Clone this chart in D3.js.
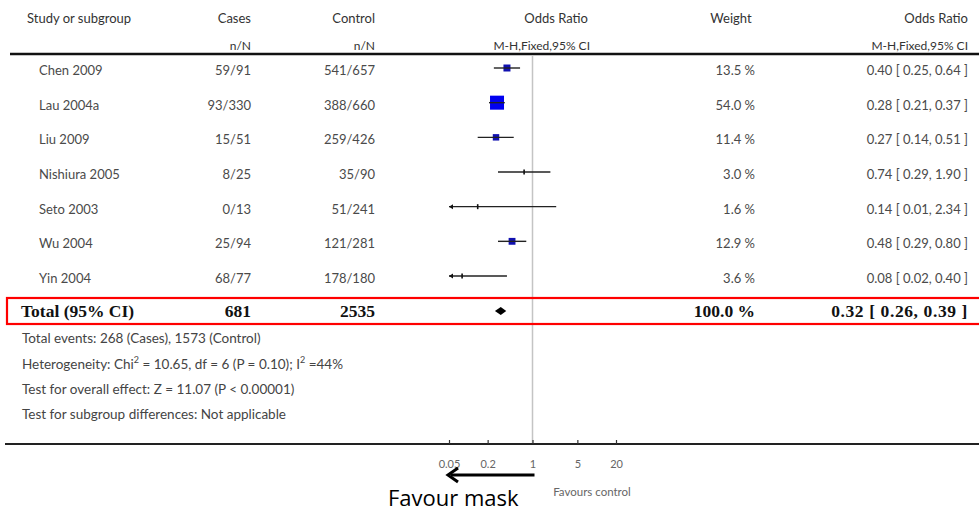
<!DOCTYPE html>
<html>
<head>
<meta charset="utf-8">
<script src="https://cdn.jsdelivr.net/npm/d3@7"></script>
<style>
  html, body { margin: 0; padding: 0; background: #fff; }
  svg { display: block; }
</style>
</head>
<body>
<svg id="chart" width="979" height="511"></svg>
<script>
// ---- data ----
const studies = ["Chen 2009", "Lau 2004a", "Liu 2009", "Nishiura 2005", "Seto 2003", "Wu 2004", "Yin 2004"];
const caseEvents = [59, 93, 15, 8, 0, 25, 68];
const caseTotals = [91, 330, 51, 25, 13, 94, 77];
const controlEvents = [541, 388, 259, 35, 51, 121, 178];
const controlTotals = [657, 660, 426, 90, 241, 281, 180];
const weights = [13.5, 54.0, 11.4, 3.0, 1.6, 12.9, 3.6];
const oddsRatios = [0.40, 0.28, 0.27, 0.74, 0.14, 0.48, 0.08];
const ciLower = [0.25, 0.21, 0.14, 0.29, 0.01, 0.29, 0.02];
const ciUpper = [0.64, 0.37, 0.51, 1.90, 2.34, 0.80, 0.40];
const totalCases = 681;
const totalControl = 2535;
const totalWeight = 100.0;
const totalOR = 0.32;
const totalLower = 0.26;
const totalUpper = 0.39;
const axisTicks = [0.05, 0.2, 1, 5, 20];
const footerLines = [
  "Total events: 268 (Cases), 1573 (Control)",
  "Heterogeneity: Chi|2| = 10.65, df = 6 (P = 0.10); I|2| =44%",
  "Test for overall effect: Z = 11.07 (P < 0.00001)",
  "Test for subgroup differences: Not applicable"
];

// ---- layout ----
const svg = d3.select("#chart");
const sans = "Lato, 'Open Sans', sans-serif";
const serif = "'Liberation Serif', 'Times New Roman', serif";
const x = d3.scaleLog().domain([0.05, 20]).range([449, 616]);
const y = d3.scaleLinear().domain([0, studies.length - 1]).range([70, 278]);
const size = d3.scaleSqrt().domain([0, 54]).range([0, 14]);
const colCases = 251, colControl = 375, colWeight = 755, colOR = 968;
const axisY = 444;

// header
const hdr = svg.append("g").attr("font-family", sans).attr("font-size", 13).attr("fill", "#333");
hdr.append("text").attr("x", 27).attr("y", 18).attr("dominant-baseline", "central").text("Study or subgroup");
hdr.append("text").attr("x", colCases).attr("y", 18).attr("text-anchor", "end").attr("dominant-baseline", "central").text("Cases");
hdr.append("text").attr("x", colCases).attr("y", 45).attr("text-anchor", "end").attr("dominant-baseline", "central").attr("font-size", 12).text("n/N");
hdr.append("text").attr("x", colControl).attr("y", 18).attr("text-anchor", "end").attr("dominant-baseline", "central").text("Control");
hdr.append("text").attr("x", colControl).attr("y", 45).attr("text-anchor", "end").attr("dominant-baseline", "central").attr("font-size", 12).text("n/N");
hdr.append("text").attr("x", 588).attr("y", 18).attr("text-anchor", "end").attr("dominant-baseline", "central").text("Odds Ratio");
hdr.append("text").attr("x", 590).attr("y", 45).attr("text-anchor", "end").attr("dominant-baseline", "central").attr("font-size", 12).text("M-H,Fixed,95% CI");
hdr.append("text").attr("x", colWeight - 24).attr("y", 18).attr("text-anchor", "middle").attr("dominant-baseline", "central").text("Weight");
hdr.append("text").attr("x", colOR).attr("y", 18).attr("text-anchor", "end").attr("dominant-baseline", "central").text("Odds Ratio");
hdr.append("text").attr("x", colOR).attr("y", 45).attr("text-anchor", "end").attr("dominant-baseline", "central").attr("font-size", 12).text("M-H,Fixed,95% CI");

// top rule
svg.append("line").attr("x1", 10).attr("x2", 979).attr("y1", 54).attr("y2", 54)
  .attr("stroke", "#111").attr("stroke-width", 2.5);

// reference line at OR = 1
svg.append("line").attr("x1", x(1)).attr("x2", x(1)).attr("y1", 55).attr("y2", axisY)
  .attr("stroke", "#c4c4c4").attr("stroke-width", 1.5);

// study rows
const rows = svg.append("g").attr("font-family", sans).attr("font-size", 13).attr("fill", "#4a4a4a");
studies.forEach((s, i) => {
  const cy = y(i);
  rows.append("text").attr("x", 39).attr("y", cy).attr("dominant-baseline", "central").text(s);
  rows.append("text").attr("x", colCases).attr("y", cy).attr("text-anchor", "end").attr("dominant-baseline", "central")
    .text(caseEvents[i] + "/" + caseTotals[i]);
  rows.append("text").attr("x", colControl).attr("y", cy).attr("text-anchor", "end").attr("dominant-baseline", "central")
    .text(controlEvents[i] + "/" + controlTotals[i]);
  rows.append("text").attr("x", colWeight).attr("y", cy).attr("text-anchor", "end").attr("dominant-baseline", "central")
    .text(weights[i].toFixed(1) + " %");
  rows.append("text").attr("x", colOR).attr("y", cy).attr("text-anchor", "end").attr("dominant-baseline", "central")
    .text(oddsRatios[i].toFixed(2) + " [ " + ciLower[i].toFixed(2) + ", " + ciUpper[i].toFixed(2) + " ]");
});

// forest marks
const marks = svg.append("g");
studies.forEach((s, i) => {
  const cy = y(i) - 2;
  const lo = Math.max(ciLower[i], x.domain()[0]);
  const hi = Math.min(ciUpper[i], x.domain()[1]);
  const sz = size(weights[i]);
  if (sz >= 5) {
    marks.append("rect").attr("x", x(oddsRatios[i]) - sz / 2).attr("y", cy - sz / 2)
      .attr("width", sz).attr("height", sz).attr("fill", sz > 10 ? "#0000f0" : "#1010b0");
  }
  marks.append("line").attr("x1", x(lo)).attr("x2", x(hi)).attr("y1", cy).attr("y2", cy)
    .attr("stroke", "#222").attr("stroke-width", 1.4);
  if (sz < 5) {
    marks.append("line").attr("x1", x(oddsRatios[i])).attr("x2", x(oddsRatios[i]))
      .attr("y1", cy - 2.5).attr("y2", cy + 2.5).attr("stroke", "#111").attr("stroke-width", 1.6);
  }
  if (ciLower[i] < x.domain()[0]) {
    const ax = x(x.domain()[0]);
    marks.append("path").attr("d", `M${ax},${cy} L${ax + 4},${cy - 2.5} L${ax + 4},${cy + 2.5} Z`).attr("fill", "#111");
  }
});

// total row
const ty = 311;
svg.append("rect").attr("x", 7).attr("y", 298).attr("width", 990).attr("height", 26)
  .attr("fill", "none").attr("stroke", "#ff0000").attr("stroke-width", 2.2);
const tot = svg.append("g").attr("font-family", serif).attr("font-weight", "bold").attr("font-size", 17.5).attr("fill", "#111");
tot.append("text").attr("x", 21).attr("y", ty).attr("dominant-baseline", "central").text("Total (95% CI)");
tot.append("text").attr("x", colCases).attr("y", ty).attr("text-anchor", "end").attr("dominant-baseline", "central").text(totalCases);
tot.append("text").attr("x", colControl).attr("y", ty).attr("text-anchor", "end").attr("dominant-baseline", "central").text(totalControl);
tot.append("text").attr("x", colWeight).attr("y", ty).attr("text-anchor", "end").attr("dominant-baseline", "central")
  .text(totalWeight.toFixed(1) + " %");
tot.append("text").attr("x", colOR).attr("y", ty).attr("text-anchor", "end").attr("dominant-baseline", "central")
  .attr("letter-spacing", 0.6)
  .text(totalOR.toFixed(2) + " [ " + totalLower.toFixed(2) + ", " + totalUpper.toFixed(2) + " ]");
svg.append("path")
  .attr("d", `M${x(totalLower)},${ty} L${x(totalOR)},${ty - 4} L${x(totalUpper)},${ty} L${x(totalOR)},${ty + 4} Z`)
  .attr("fill", "#000");

// footer lines
const foot = svg.append("g").attr("font-family", sans).attr("font-size", 13.5).attr("fill", "#444");
const footY = [338, 364, 389, 414];
footerLines.forEach((line, i) => {
  const t = foot.append("text").attr("x", 22).attr("y", footY[i]).attr("dominant-baseline", "central");
  let shift = 0;
  line.split("|").forEach((part, j) => {
    const sp = t.append("tspan").text(part);
    if (j % 2 === 1) {
      sp.attr("font-size", 9).attr("dy", -5);
      shift = 5;
    } else if (shift) {
      sp.attr("dy", shift);
      shift = 0;
    }
  });
});

// axis
svg.append("line").attr("x1", 5).attr("x2", 979).attr("y1", axisY).attr("y2", axisY)
  .attr("stroke", "#222").attr("stroke-width", 2);
const axisG = svg.append("g").attr("transform", `translate(0,${axisY})`)
  .call(d3.axisBottom(x).tickValues(axisTicks).tickFormat(d => String(d))
    .tickSizeInner(-4).tickSizeOuter(0).tickPadding(16));
axisG.select(".domain").remove();
axisG.selectAll(".tick line").attr("stroke", "#333").attr("stroke-width", 1.2);
axisG.selectAll(".tick text").attr("font-family", sans).attr("font-size", 11).attr("fill", "#666");

svg.append("text").attr("x", 592).attr("y", 491).attr("text-anchor", "middle").attr("dominant-baseline", "central")
  .attr("font-family", sans).attr("font-size", 11.5).attr("fill", "#666").text("Favours control");

// favour mask arrow + label
const arrowY = 475;
const ax0 = x(1) + 2, ax1 = x(0.05) - 1;
svg.append("line").attr("x1", ax0).attr("x2", ax1 + 3).attr("y1", arrowY).attr("y2", arrowY)
  .attr("stroke", "#000").attr("stroke-width", 3);
svg.append("path").attr("d", `M${ax1 + 10},${arrowY - 7} L${ax1},${arrowY} L${ax1 + 10},${arrowY + 7}`)
  .attr("fill", "none").attr("stroke", "#000").attr("stroke-width", 3).attr("stroke-linejoin", "miter");
svg.append("text").attr("x", 388).attr("y", 497).attr("dominant-baseline", "central")
  .attr("font-family", "'Open Sans', 'DejaVu Sans', sans-serif").attr("font-size", 22).attr("fill", "#000")
  .text("Favour mask");
</script>
</body>
</html>
